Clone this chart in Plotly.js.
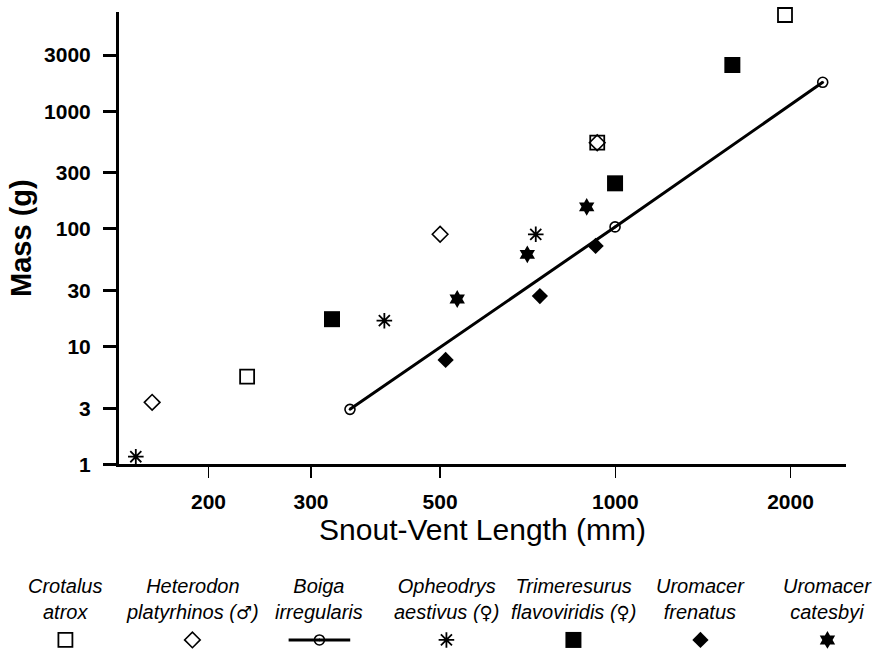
<!DOCTYPE html>
<html>
<head>
<meta charset="utf-8">
<script src="https://cdn.plot.ly/plotly-3.0.1.min.js"></script>
<style>html,body{margin:0;padding:0;background:#fff;}#chart{width:879px;height:653px;}</style>
</head>
<body>
<div id="chart"></div>
<script>
// ---- data ----
const species = ['Crotalus atrox', 'Heterodon platyrhinos', 'Boiga irregularis', 'Opheodrys aestivus',
  'Trimeresurus flavoviridis', 'Uromacer frenatus', 'Uromacer catesbyi'];
const legendLabels = ['Crotalus<br>atrox', 'Heterodon<br>platyrhinos (♂)', 'Boiga<br>irregularis',
  'Opheodrys<br>aestivus (♀)', 'Trimeresurus<br>flavoviridis (♀)', 'Uromacer<br>frenatus', 'Uromacer<br>catesbyi'];

const crotalusSVL = [233, 931, 1957];
const crotalusMass = [5.55, 540, 6570];
const heterodonSVL = [160, 500, 931];
const heterodonMass = [3.36, 90, 540];
const boigaSVL = [350, 999, 2272];
const boigaMass = [2.93, 104, 1760];
const opheodrysSVL = [150, 401, 730];
const opheodrysMass = [1.16, 16.6, 90];
const trimeresurusSVL = [326, 999, 1589];
const trimeresurusMass = [17.1, 244, 2470];
const frenatusSVL = [511, 742, 925];
const frenatusMass = [7.7, 26.9, 71.6];
const catesbyiSVL = [535, 706, 893];
const catesbyiMass = [25.4, 60.8, 154];

const xTickVals = [200, 300, 500, 1000, 2000];
const xTickText = ['200', '300', '500', '1000', '2000'];
const yTickVals = [1, 3, 10, 30, 100, 300, 1000, 3000];
const yTickText = ['1', '3', '10', '30', '100', '300', '1000', '3000'];

// ---- styles ----
const K = '#000';
const styles = [
  {symbol: 'square-open', size: 14, lw: 1.8},
  {symbol: 'diamond-open', size: 12, lw: 1.6},
  {symbol: 'circle-open-dot', size: 10, lw: 1.6, line: true},
  {symbol: 'asterisk-open', size: 13, lw: 1.8},
  {symbol: 'square', size: 16, lw: 0},
  {symbol: 'diamond', size: 12.5, lw: 0},
  {symbol: 'hexagram', size: 13.5, lw: 0}
];
const seriesX = [crotalusSVL, heterodonSVL, boigaSVL, opheodrysSVL, trimeresurusSVL, frenatusSVL, catesbyiSVL];
const seriesY = [crotalusMass, heterodonMass, boigaMass, opheodrysMass, trimeresurusMass, frenatusMass, catesbyiMass];

const FONT = 'Liberation Sans, Arial, Helvetica, sans-serif';
const traces = [];

species.forEach((name, i) => {
  const s = styles[i];
  traces.push({
    type: 'scatter', name: name, x: seriesX[i], y: seriesY[i],
    mode: s.line ? 'lines+markers' : 'markers',
    line: {color: K, width: 3},
    marker: {symbol: s.symbol, size: s.size, color: K, line: {color: K, width: s.lw}},
    cliponaxis: false, showlegend: false, hoverinfo: 'x+y'
  });
});

// legend keys drawn on a separate hidden category axis
species.forEach((name, i) => {
  const s = styles[i];
  if (s.line) {
    traces.push({
      type: 'scatter', x: [name], y: [0], xaxis: 'x2', yaxis: 'y2', mode: 'markers',
      marker: {symbol: 'line-ew', size: 44, color: K, line: {color: K, width: 3}},
      cliponaxis: false, showlegend: false, hoverinfo: 'skip'
    });
  }
  traces.push({
    type: 'scatter', x: [name], y: [0], xaxis: 'x2', yaxis: 'y2', mode: 'markers',
    marker: {symbol: s.symbol, size: s.size, color: K, line: {color: K, width: s.lw}},
    cliponaxis: false, showlegend: false, hoverinfo: 'skip'
  });
});

function styleSigns(t) {
  return t.replace(/([♂♀])/g, '<span style="font-family:DejaVu Sans;font-size:18px">$1</span>');
}

const annotations = species.map((name, i) => ({
  xref: 'x2', yref: 'y2', x: name, y: 0, yshift: 15,
  xanchor: 'center', yanchor: 'bottom', showarrow: false,
  text: '<i>' + styleSigns(legendLabels[i]) + '</i>',
  font: {family: FONT, size: 20, color: K}
}));

const W = 879, H = 653;
const layout = {
  width: W, height: H,
  margin: {l: 0, r: 0, t: 0, b: 0},
  paper_bgcolor: '#fff', plot_bgcolor: 'rgba(0,0,0,0)',
  showlegend: false,
  font: {family: FONT, color: K},
  xaxis: {
    type: 'log', range: [2.1472, 3.3964], domain: [119 / W, 846 / W], anchor: 'y',
    showline: true, linecolor: K, linewidth: 3, mirror: false,
    ticks: 'outside', ticklen: 11, tickwidth: 1.5, tickcolor: K,
    tickvals: xTickVals, ticktext: xTickText, ticklabelstandoff: 5,
    tickfont: {family: FONT, size: 21, weight: 'bold', color: K},
    showgrid: false, zeroline: false,
    title: {text: 'Snout-Vent Length (mm)', font: {family: FONT, size: 30, color: K}, standoff: 5}
  },
  yaxis: {
    type: 'log', range: [0, 3.843], domain: [1 - 464.3 / H, 1 - 12 / H], anchor: 'x',
    showline: true, linecolor: K, linewidth: 3, mirror: false,
    ticks: 'outside', ticklen: 13, tickwidth: 3, tickcolor: K,
    tickvals: yTickVals, ticktext: yTickText, ticklabelstandoff: 8,
    tickfont: {family: FONT, size: 21, weight: 'bold', color: K},
    showgrid: false, zeroline: false,
    title: {text: 'Mass (g)', font: {family: FONT, size: 29, weight: 'bold', color: K}, standoff: 4}
  },
  xaxis2: {
    type: 'category', categoryarray: species, range: [-0.515, 6.406],
    domain: [0, 1], anchor: 'y2', visible: false, fixedrange: true
  },
  yaxis2: {
    range: [-0.1, 0.9], domain: [0, 0.2], anchor: 'x2', visible: false, fixedrange: true
  },
  annotations: annotations
};

Plotly.newPlot('chart', traces, layout, {displayModeBar: false, staticPlot: true});
</script>
</body>
</html>
